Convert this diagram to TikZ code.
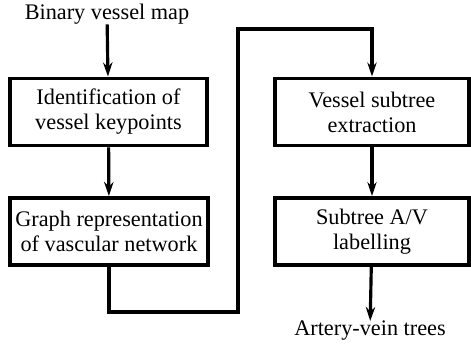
\documentclass[tikz,border=0pt]{standalone}
\usepackage{fontspec}
\setmainfont{Liberation Serif}
\usepackage{tikz}
\usetikzlibrary{arrows.meta}

\begin{document}
\begin{tikzpicture}[
    x=0.03cm, y=-0.03cm,
    stage/.style={rectangle, draw, line width=3.4pt, align=center, inner sep=0pt,
        minimum height=2.01cm, font=\rmfamily\fontsize{19}{21.3}\selectfont},
    io/.style={font=\rmfamily\fontsize{19}{21.3}\selectfont, inner sep=0pt},
    edge/.style={draw, line width=2.7pt, -{Stealth[length=12pt, width=8pt]}}
]
\useasboundingbox (0,0) rectangle (471,345);

% Define the processing stages
\node[io] (input) at (107,14) {Binary vessel map};
\node[stage, minimum width=5.91cm] (ident) at (108.5,112) {Identification of\\vessel keypoints};
\node[stage, minimum width=5.94cm] (graph) at (109,231.5) {Graph representation\\of vascular network};
\node[stage, minimum width=5.82cm] (extract) at (372,112) {Vessel subtree\\extraction};
\node[stage, minimum width=5.82cm] (avlabel) at (372,231.5) {Subtree A/V\\labelling};
\node[io] (output) at (370,331) {Artery-vein trees};

% Corners of the long connector
\coordinate (low) at (238,312);
\coordinate (high) at (238,29);

% Define the flow between stages
\path[edge] (input) -- (ident);
\path[edge] (ident) -- (graph);
\path[edge] (graph.south) |- (low) -- (high) -| (extract.north);
\path[edge] (extract) -- (avlabel);
\path[edge] (avlabel) -- (output);

\end{tikzpicture}
\end{document}
